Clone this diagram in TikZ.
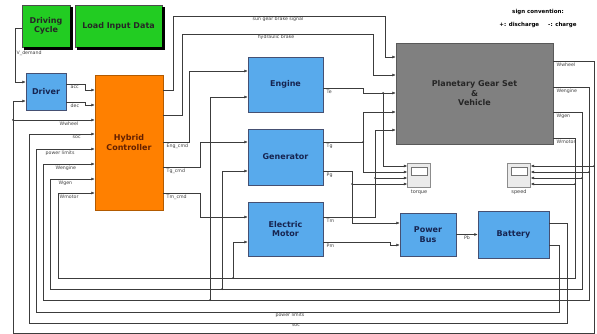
\documentclass[tikz,border=0pt]{standalone}
\usepackage{fontspec}
\setmainfont{DejaVu Sans}
\usetikzlibrary{arrows.meta, positioning, calc}
\definecolor{simblue}{RGB}{88,170,236}
\definecolor{simgreen}{RGB}{34,204,34}
\definecolor{simorange}{RGB}{255,128,0}
\definecolor{simgray}{RGB}{128,128,128}
\definecolor{wire}{RGB}{60,60,60}
\definecolor{navytext}{RGB}{22,36,80}
\definecolor{ctrltext}{RGB}{100,32,0}

\begin{document}
\begin{tikzpicture}[x=1pt, y=-1pt,
    block/.style={draw=black!70, line width=0.5pt, align=center, inner sep=0pt, font=\bfseries\fontsize{8}{9.5}\selectfont},
    blue block/.style={block, fill=simblue, draw=navytext!80, text=navytext},
    green block/.style={block, fill=simgreen, text=black!85},
    scopebox/.style={draw=black!45, fill=black!8, minimum width=23pt, minimum height=24pt, inner sep=0pt},
    sig/.style={draw=wire, line width=0.55pt, -{Latex[length=3.5pt, width=3pt]}},
    wireline/.style={draw=wire, line width=0.55pt},
    lbl/.style={font=\fontsize{4.7}{5.5}\selectfont, inner sep=0.5pt, text=black!75}]
    \useasboundingbox[fill=white] (0,0) rectangle (597,334);

    % Bloques
    \node [green block, minimum width=48pt, minimum height=42pt] (cycle) at (46,26) {Driving\\Cycle};
    \node [green block, minimum width=87pt, minimum height=42pt] (load) at (118.5,26) {Load Input Data};
    \node [blue block, minimum width=40pt, minimum height=37pt] (driver) at (46,91.5) {Driver};
    \node [block, fill=simorange, draw=simorange!70!black, text=ctrltext, minimum width=68pt, minimum height=135pt] (ctrl) at (129,142.5) {Hybrid\\Controller};
    \node [blue block, minimum width=75pt, minimum height=55pt] (engine) at (285.5,84.5) {Engine};
    \node [blue block, minimum width=75pt, minimum height=56pt] (gen) at (285.5,157) {Generator};
    \node [blue block, minimum width=75pt, minimum height=54pt] (motor) at (285.5,229) {Electric\\Motor};
    \node [block, fill=simgray, draw=black!65, text=black!85, minimum width=157pt, minimum height=101pt] (pgs) at (474.5,93.5) {Planetary Gear Set\\\&\\Vehicle};
    \node [blue block, minimum width=56pt, minimum height=43pt] (bus) at (428,234.5) {Power\\Bus};
    \node [blue block, minimum width=71pt, minimum height=47pt] (batt) at (513.5,234.5) {Battery};

    % Sombras de los bloques verdes (derecha y abajo)
    \foreach \b in {cycle, load} {
      \fill [black] ($(\b.north east)+(0,2.5)$) rectangle ($(\b.south east)+(2.5,2.5)$);
      \fill [black] ($(\b.south west)+(2.5,0)$) rectangle ($(\b.south east)+(2.5,2.5)$);
    }

    % Scopes
    \node [scopebox] (torque) at (419,175) {};
    \node [scopebox] (speed) at (519,175) {};
    \foreach \s in {torque, speed}
      \draw [black!55, fill=white] ($(\s.center)+(-8,-8)$) rectangle ($(\s.center)+(8,0)$);
    \node [lbl, font=\fontsize{5}{6}\selectfont, below=2pt of torque] {torque};
    \node [lbl, font=\fontsize{5}{6}\selectfont, below=2pt of speed] {speed};

    % Convenio de signos
    \node [font=\bfseries\fontsize{5.5}{6.5}\selectfont] (sign) at (538,12) {sign convention:};
    \node [font=\bfseries\fontsize{5.5}{6.5}\selectfont, below=0.5pt of sign] {+: discharge\hspace{9pt}-: charge};

    % Conductor
    \draw [sig] (cycle.west |- 0,28) -| (15,82) -- (driver.west |- 0,82);
    \node [lbl, anchor=west] at (16,53) {V\_demand};
    \draw [sig] (driver.east |- 0,84) -| (85,90) -- (ctrl.west |- 0,90);
    \node [lbl, anchor=north west] at (70,85) {acc};
    \draw [sig] (driver.east |- 0,102) -| (85,105) -- (ctrl.west |- 0,105);
    \node [lbl, anchor=north west] at (70,103) {dec};

    % Realimentaciones
    \draw [sig] (pgs.east |- 0,61) -| (594,333) -| (13,101) -- (driver.west |- 0,101);
    \draw [sig] (13,120) -- (ctrl.west |- 0,120);
    \node [lbl, anchor=north west] at (59,121) {Wwheel};
    \draw [sig] (batt.east |- 0,223) -| (567,323) -| (29,134) -- (ctrl.west |- 0,134);
    \node [lbl, anchor=north west] at (72,135) {soc};
    \node [lbl, below] at (296,323) {soc};
    \draw [sig] (batt.east |- 0,245) -| (559,312) -| (36,149) -- (ctrl.west |- 0,149);
    \node [lbl, anchor=north west] at (45,150) {power limits};
    \node [lbl, below] at (290,312) {power limits};
    \draw [sig] (pgs.east |- 0,87) -| (589,300) -| (43,164) -- (ctrl.west |- 0,164);
    \node [lbl, anchor=north west] at (55,165) {Wengine};
    \draw [sig] (pgs.east |- 0,112) -| (582,289) -| (50,179) -- (ctrl.west |- 0,179);
    \node [lbl, anchor=north west] at (58,180) {Wgen};
    \draw [sig] (pgs.east |- 0,138) -| (575,278) -| (58,193) -- (ctrl.west |- 0,193);
    \node [lbl, anchor=north west] at (59,194) {Wmotor};
    \draw [sig] (210,300) |- (engine.west |- 0,97);
    \draw [sig] (222,289) |- (gen.west |- 0,171);
    \draw [sig] (233,278) |- (motor.west |- 0,242);
    \draw [sig] (594,166) -- (speed.east |- 0,166);
    \draw [sig] (589,172) -- (speed.east |- 0,172);
    \draw [sig] (582,178) -- (speed.east |- 0,178);
    \draw [sig] (575,184) -- (speed.east |- 0,184);
    \node [lbl, anchor=north west] at (556,62) {Wwheel};
    \node [lbl, anchor=north west] at (556,88) {Wengine};
    \node [lbl, anchor=north west] at (556,113) {Wgen};
    \node [lbl, anchor=north west] at (556,139) {Wmotor};

    % Salidas del controlador
    \draw [sig] (ctrl.east |- 0,90) -| (173,16) -| (385,57) -- (pgs.west |- 0,57);
    \node [lbl, below] at (278,16) {sun gear brake signal};
    \draw [sig] (ctrl.east |- 0,115) -| (182,34) -| (373,75) -- (pgs.west |- 0,75);
    \node [lbl, below] at (276,34) {hydraulic brake};
    \draw [sig] (ctrl.east |- 0,142) -| (189,71) -- (engine.west |- 0,71);
    \node [lbl, anchor=north west] at (166,143) {Eng\_cmd};
    \draw [sig] (ctrl.east |- 0,167) -| (200,142) -- (gen.west |- 0,142);
    \node [lbl, anchor=north west] at (166,168) {Tg\_cmd};
    \draw [sig] (ctrl.east |- 0,193) -| (200,217) -- (motor.west |- 0,217);
    \node [lbl, anchor=north west] at (166,194) {Tm\_cmd};

    % Pares y potencias
    \draw [sig] (engine.east |- 0,88) -| (363,93) -- (pgs.west |- 0,93);
    \node [lbl, anchor=north west] at (326,89) {Te};
    \draw [sig] (383,93) |- (torque.west |- 0,166);
    \draw [wireline] (gen.east |- 0,142) -- (363,142);
    \draw [sig] (363,142) |- (pgs.west |- 0,112);
    \draw [sig] (363,142) |- (torque.west |- 0,172);
    \node [lbl, anchor=north west] at (326,143) {Tg};
    \draw [sig] (motor.east |- 0,217) -| (375,130) -- (pgs.west |- 0,130);
    \draw [sig] (375,178) -- (torque.west |- 0,178);
    \node [lbl, anchor=north west] at (326,218) {Tm};
    \draw [sig] (gen.east |- 0,171) -| (352,223) -- (bus.west |- 0,223);
    \draw [sig] (352,184) -- (torque.west |- 0,184);
    \node [lbl, anchor=north west] at (326,172) {Pg};
    \draw [sig] (motor.east |- 0,242) -| (390,245) -- (bus.west |- 0,245);
    \node [lbl, anchor=north west] at (326,243) {Pm};
    \draw [sig] (bus) -- (batt) node [lbl, midway, below=1pt] {Pb};

    % Puntos de bifurcacion
    \foreach \p in {(13,120), (210,300), (222,289), (233,278), (594,166), (589,172), (582,178), (575,184), (383,93), (363,142), (375,178), (352,184)}
      \fill [wire] \p circle (1pt);
\end{tikzpicture}
\end{document}
